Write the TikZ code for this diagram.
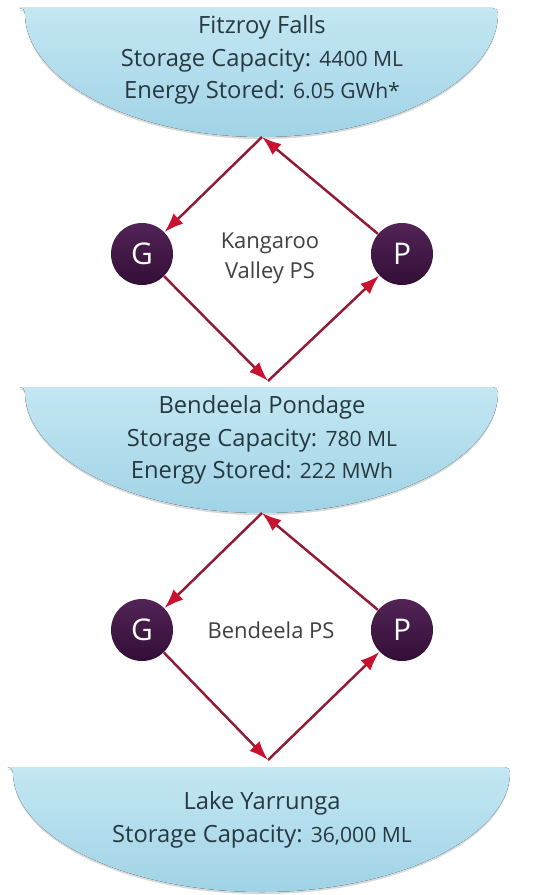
\documentclass[tikz,border=0pt]{standalone}
\usepackage{fontspec}
\setmainfont{Open Sans}
\usetikzlibrary{arrows.meta,shadows}

\definecolor{lakelight}{RGB}{196,231,243}
\definecolor{lakedark}{RGB}{160,211,230}
\definecolor{laketext}{RGB}{38,56,64}
\definecolor{plumlight}{RGB}{82,36,86}
\definecolor{plumdark}{RGB}{50,14,54}
\definecolor{flowred}{RGB}{145,26,52}
\definecolor{tipred}{RGB}{200,18,48}
\definecolor{pstext}{RGB}{64,64,64}

\newcommand{\amt}[1]{{\fontsize{12}{18.5}\selectfont #1}}

\tikzset{
  lake/.style={top color=lakelight, bottom color=lakedark, rounded corners=3pt,
    drop shadow={opacity=0.3, shadow xshift=0pt, shadow yshift=-1.2pt}},
  laketxt/.style={text=laketext, align=center, font=\fontsize{13.5}{18.5}\selectfont},
  unit/.style={circle, minimum size=1.24cm, inner sep=0pt, top color=plumlight,
    bottom color=plumdark, text=white, font=\fontsize{17}{17}\selectfont},
  pstxt/.style={text=pstext, align=center, font=\fontsize{12.5}{17}\selectfont},
  flow/.style={draw=flowred, line width=1.4pt,
    -{Latex[length=11pt,width=8pt,color=tipred]}}
}

\begin{document}
\begin{tikzpicture}
\useasboundingbox (0,0) rectangle (10.8,-17.9);

% reservoirs
\fill[lake] (0.5,-0.16) -- (9.96,-0.16) arc[start angle=0, end angle=-180, x radius=4.73, y radius=2.58] -- cycle;
\fill[lake] (0.5,-7.74) -- (9.96,-7.74) arc[start angle=0, end angle=-180, x radius=4.73, y radius=2.52] -- cycle;
\fill[lake] (0.26,-15.34) -- (10.2,-15.34) arc[start angle=0, end angle=-180, x radius=4.97, y radius=2.5] -- cycle;

\node[laketxt] (ff) at (5.24,-1.2) {Fitzroy Falls\\Storage Capacity: \amt{4400 ML}\\Energy Stored: \amt{6.05 GWh*}};
\node[laketxt] (bp) at (5.24,-8.8) {Bendeela Pondage\\Storage Capacity: \amt{780 ML}\\Energy Stored: \amt{222 MWh}};
\node[laketxt] (ly) at (5.24,-16.4) {Lake Yarrunga\\Storage Capacity: \amt{36,000 ML}};

\coordinate (ffout) at (5.24,-2.74);
\coordinate (bpin) at (5.36,-7.62);
\coordinate (bpout) at (5.24,-10.26);
\coordinate (lyin) at (5.36,-15.2);

% power stations
\node[unit] (kvG) at (2.84,-5.08) {G};
\node[unit] (kvP) at (8.04,-5.08) {P};
\node[pstxt] (kv) at (5.4,-5.16) {Kangaroo\\Valley PS};

\node[unit] (bdG) at (2.84,-12.6) {G};
\node[unit] (bdP) at (8.04,-12.6) {P};
\node[pstxt] (bd) at (5.42,-12.6) {Bendeela PS};

\path[flow] (ffout) -- (kvG);
\path[flow] (kvG) -- (bpin);
\path[flow] (bpin) -- (kvP);
\path[flow] (kvP) -- (ffout);

\path[flow] (bpout) -- (bdG);
\path[flow] (bdG) -- (lyin);
\path[flow] (lyin) -- (bdP);
\path[flow] (bdP) -- (bpout);
\end{tikzpicture}
\end{document}
